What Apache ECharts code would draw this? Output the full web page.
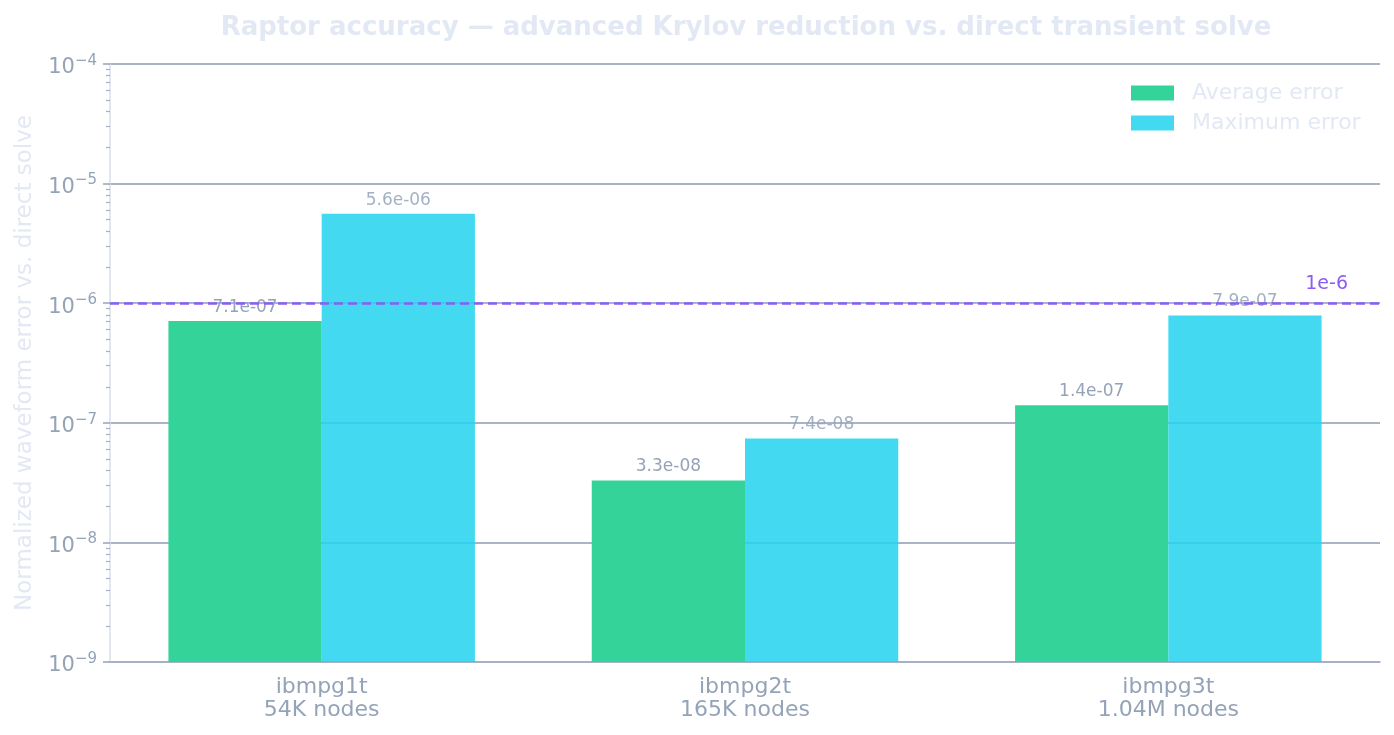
<!DOCTYPE html>
<html>
<head>
<meta charset="utf-8">
<script src="https://cdn.jsdelivr.net/npm/echarts@6/dist/echarts.min.js"></script>
<style>
  html, body { margin: 0; padding: 0; background: #fff; }
  #chart { width: 1394px; height: 735px; }
</style>
</head>
<body>
<div id="chart"></div>
<script>
var categories = ['ibmpg1t\n54K nodes', 'ibmpg2t\n165K nodes', 'ibmpg3t\n1.04M nodes']
var avgError = [7.1e-7, 3.3e-8, 1.4e-7]
var maxError = [5.6e-6, 7.4e-8, 7.9e-7]
var threshold = 1e-6
var decadeExp = [-9, -8, -7, -6, -5, -4]

// echarts log bars grow from 1, not from the axis floor, so the log axis is
// drawn as a value axis over decades above the floor (log10(v) - floor)
var floorExp = decadeExp[0]
function toAxis(v) { return Math.log10(v) - floorExp }

var minorTicks = []
decadeExp.slice(0, -1).forEach(function (e) {
  for (var k = 2; k <= 9; k++) minorTicks.push(e - floorExp + Math.log10(k))
})

var FONT = 'DejaVu Sans'
var slate = '#94a3b8'
var faint = '#e3e8f5'

function fmtExp(v) {
  return v.toExponential(1).replace(/e([+-])(\d)$/, 'e$10$2')
}

function toBars(arr) {
  return arr.map(function (v) {
    return { value: toAxis(v), raw: v }
  })
}

var chart = echarts.init(document.getElementById('chart'))

var barLabel = {
  show: true,
  position: 'top',
  distance: 5,
  fontFamily: FONT,
  fontSize: 17,
  color: slate,
  formatter: function (p) { return fmtExp(p.data.raw) }
}

var option = {
  backgroundColor: '#ffffff',
  textStyle: { fontFamily: FONT },
  title: {
    text: 'Raptor accuracy — advanced Krylov reduction vs. direct transient solve',
    left: 741,
    top: 10,
    textAlign: 'center',
    textStyle: { fontFamily: FONT, fontSize: 26, fontWeight: 'bold', color: faint }
  },
  legend: {
    orient: 'vertical',
    left: 1126,
    top: 76,
    itemWidth: 43,
    itemHeight: 15,
    itemGap: 6,
    icon: 'rect',
    textStyle: { fontFamily: FONT, fontSize: 22, lineHeight: 24, color: faint, padding: [0, 0, 0, 13] },
    data: ['Average error', 'Maximum error']
  },
  grid: { left: 110, right: 14, top: 64, bottom: 73, containLabel: false },
  xAxis: {
    type: 'category',
    data: categories,
    axisLine: { lineStyle: { color: '#a3b0c7', width: 1.5 } },
    axisTick: { alignWithLabel: true, length: 6, lineStyle: { color: '#a3b0c7', width: 1.5 } },
    axisLabel: { fontFamily: FONT, fontSize: 22, lineHeight: 23, color: slate, margin: 14 },
    splitLine: { show: false }
  },
  yAxis: [
    {
      type: 'value',
      min: 0,
      max: decadeExp.length - 1,
      interval: 1,
      position: 'left',
      name: 'Normalized waveform error vs. direct solve',
      nameLocation: 'middle',
      nameGap: 73,
      nameTextStyle: { fontFamily: FONT, fontSize: 23, color: faint },
      axisLine: { show: true, lineStyle: { color: '#d8dee9', width: 1.5 } },
      axisTick: { show: true, length: 7, lineStyle: { color: slate, width: 1.5 } },
      axisLabel: {
        margin: 13,
        color: slate,
        formatter: function (v) {
          return '{b|10}{s|−' + Math.abs(Math.round(v + floorExp)) + '}'
        },
        rich: {
          b: { fontFamily: FONT, fontSize: 21, color: slate, padding: [8, 0, 0, 0] },
          s: { fontFamily: FONT, fontSize: 15, color: slate, padding: [0, 0, 6, 0] }
        }
      },
      splitLine: { show: true, lineStyle: { color: '#8e9bb5', width: 1.5 } }
    },
    {
      type: 'value',
      min: 0,
      max: decadeExp.length - 1,
      position: 'left',
      axisLine: { show: false },
      axisLabel: { show: false },
      splitLine: { show: false },
      axisTick: { show: true, length: 4, customValues: minorTicks, lineStyle: { color: '#a3b0c7', width: 1.2 } }
    }
  ],
  series: [
    {
      name: 'Average error',
      type: 'bar',
      data: toBars(avgError),
      barGap: '0%',
      barCategoryGap: '27.6%',
      itemStyle: { color: '#34d399' },
      label: barLabel
    },
    {
      name: 'Maximum error',
      type: 'bar',
      data: toBars(maxError),
      itemStyle: { color: '#22d3ee', opacity: 0.85 },
      label: barLabel,
      markLine: {
        silent: true,
        symbol: 'none',
        lineStyle: { type: [9, 5], color: '#8b5cf6', width: 2.5, opacity: 1 },
        label: {
          show: true,
          position: 'insideEndTop',
          distance: [32, 10],
          formatter: '1e-6',
          fontFamily: FONT,
          fontSize: 19,
          color: '#8b5cf6'
        },
        data: [{ yAxis: toAxis(threshold) }]
      }
    }
  ]
}

chart.setOption(option)
</script>
</body>
</html>
